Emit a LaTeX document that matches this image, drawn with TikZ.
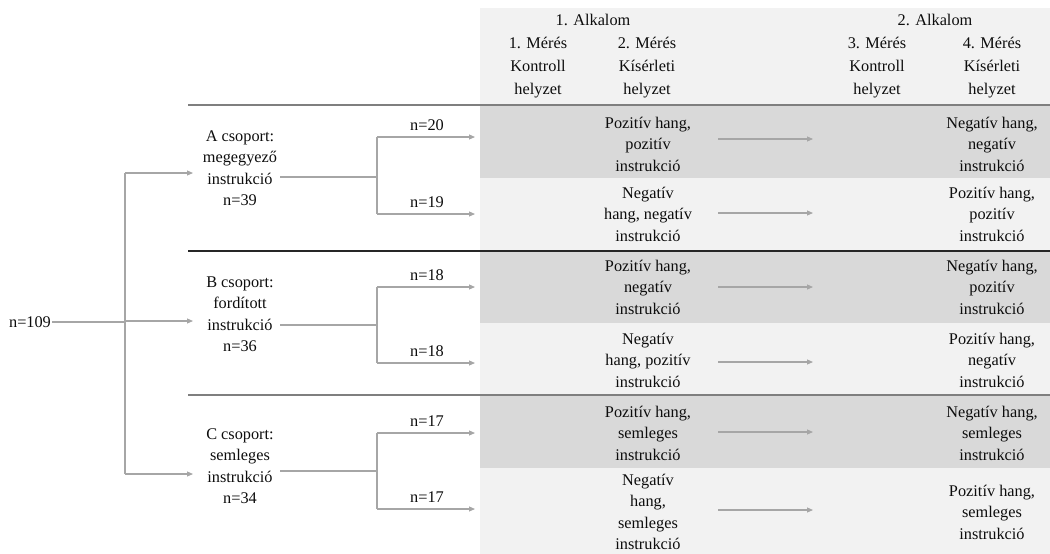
\documentclass[tikz,border=0pt]{standalone}
\usepackage{fontspec}
\setmainfont{Liberation Serif}
\usetikzlibrary{arrows.meta}
\definecolor{bandD}{HTML}{D9D9D9}
\definecolor{bandL}{HTML}{F2F2F2}
\definecolor{connc}{HTML}{A6A6A6}
\definecolor{sepc}{HTML}{7F7F7F}
\definecolor{sepd}{HTML}{262626}
\definecolor{txtc}{HTML}{0D0D0D}
\begin{document}
\begin{tikzpicture}[x=1pt,y=-1pt,
  lbl/.style={font=\fontsize{16.3}{21.5}\selectfont, align=center, inner sep=1pt, text=txtc},
  hdr/.style={font=\fontsize{16.3}{23}\selectfont, align=center, inner sep=1pt, text=txtc},
  conn/.style={draw=connc, line width=1.1pt},
  arr/.style={draw=connc, line width=1.1pt, -{Triangle[length=6pt,width=5pt]}},
  sepline/.style={draw=sepc, line width=1.8pt},
  sepdark/.style={draw=sepd, line width=1.1pt}]
\useasboundingbox (0,0) rectangle (1050,554);
% bands
\fill[bandL] (480,8) rectangle (1050,105);
\fill[bandD] (480,105) rectangle (1050,178);
\fill[bandL] (480,178) rectangle (1050,251);
\fill[bandD] (480,251) rectangle (1050,323);
\fill[bandL] (480,323) rectangle (1050,395);
\fill[bandD] (480,395) rectangle (1050,468);
\fill[bandL] (480,468) rectangle (1050,554);
% separators
\coordinate (s0l) at (188,105); \coordinate (s0r) at (1050,105);
\coordinate (s1l) at (188,251); \coordinate (s1r) at (1050,251);
\coordinate (s2l) at (188,395); \coordinate (s2r) at (1050,395);
\draw[sepline] (s0l) -- (s0r);
\draw[sepdark] (s1l) -- (s1r);
\draw[sepline] (s2l) -- (s2r);
% header
\node[hdr] (al1) at (593,20) {1. Alkalom};
\node[hdr] (al2) at (935,20) {2. Alkalom};
\node[hdr] (m1) at (538,68) {1. Mérés\\Kontroll\\helyzet};
\node[hdr] (m2) at (647,68) {2. Mérés\\Kísérleti\\helyzet};
\node[hdr] (m3) at (877,68) {3. Mérés\\Kontroll\\helyzet};
\node[hdr] (m4) at (992,68) {4. Mérés\\Kísérleti\\helyzet};
% row cells
\node[lbl] (a1l) at (648,144) {Pozitív hang,\\pozitív\\instrukció};
\node[lbl] (a1r) at (992,144) {Negatív hang,\\negatív\\instrukció};
\node[lbl] (a2l) at (648,214) {Negatív\\hang, negatív\\instrukció};
\node[lbl] (a2r) at (992,214) {Pozitív hang,\\pozitív\\instrukció};
\node[lbl] (b1l) at (648,287) {Pozitív hang,\\negatív\\instrukció};
\node[lbl] (b1r) at (992,287) {Negatív hang,\\pozitív\\instrukció};
\node[lbl] (b2l) at (648,360) {Negatív\\hang, pozitív\\instrukció};
\node[lbl] (b2r) at (992,360) {Pozitív hang,\\negatív\\instrukció};
\node[lbl] (c1l) at (648,433) {Pozitív hang,\\semleges\\instrukció};
\node[lbl] (c1r) at (992,433) {Negatív hang,\\semleges\\instrukció};
\node[lbl] (c2l) at (648,512) {Negatív\\hang,\\semleges\\instrukció};
\node[lbl] (c2r) at (992,512) {Pozitív hang,\\semleges\\instrukció};
% middle arrows
\foreach \r/\y in {a1/139,a2/213,b1/287,b2/362,c1/432,c2/510}{
  \coordinate (\r ms) at (718,\y);
  \coordinate (\r me) at (813,\y);
  \draw[arr] (\r ms) -- (\r me);
}
% left tree
\node[lbl] (n109) at (30,322) {n=109};
\coordinate (split) at (125,322);
\draw[conn, line width=1.6pt] (n109) -- (split);
\node[lbl] (gA) at (240,168) {A csoport:\\megegyező\\instrukció\\n=39};
\node[lbl] (gB) at (240,314) {B csoport:\\fordított\\instrukció\\n=36};
\node[lbl] (gC) at (240,466) {C csoport:\\semleges\\instrukció\\n=34};
\coordinate (tA) at (125,173); \coordinate (tB) at (125,321); \coordinate (tC) at (125,474);
\coordinate (eA) at (193,173); \coordinate (eB) at (193,321); \coordinate (eC) at (193,474);
\draw[conn] (tA) -- (tC);
\draw[arr] (tA) -- (eA);
\draw[arr] (tB) -- (eB);
\draw[arr] (tC) -- (eC);
% group to branches
\foreach \g/\yo/\yt/\yb/\nt/\nb in {A/177/137/214/20/19, B/325/287/363/18/18, C/471/433/509/17/17}{
  \coordinate (o\g) at (280,\yo);
  \coordinate (j\g) at (377,\yo);
  \coordinate (jt\g) at (377,\yt);
  \coordinate (jb\g) at (377,\yb);
  \coordinate (et\g) at (475,\yt);
  \coordinate (eb\g) at (475,\yb);
  \draw[conn] (o\g) -- (j\g);
  \draw[conn] (jt\g) -- (jb\g);
  \draw[arr] (jt\g) -- (et\g);
  \draw[arr] (jb\g) -- (eb\g);
  \node[lbl, above=5pt] (nt\g) at (427,\yt) {n=\nt};
  \node[lbl, above=5pt] (nb\g) at (427,\yb) {n=\nb};
}
\end{tikzpicture}
\end{document}
